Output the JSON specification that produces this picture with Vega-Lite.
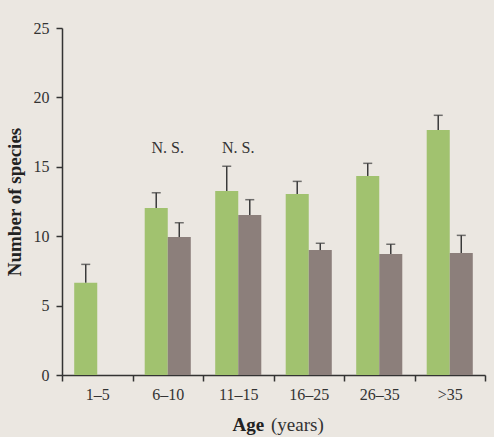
{
  "$schema": "https://vega.github.io/schema/vega-lite/v6.json",
  "width": 423,
  "height": 347,
  "autosize": {"type": "none"},
  "padding": {"left": 62, "top": 28, "right": 9, "bottom": 62},
  "background": "#ebe7e1",
  "config": {"view": {"stroke": null}, "font": "Liberation Serif"},
  "title": {"text": "(years)", "orient": "bottom", "anchor": "start", "frame": "group", "dx": 209, "offset": -3, "baseline": "alphabetic", "fontSize": 19, "fontWeight": "normal", "color": "#333333", "font": "Liberation Serif"},
  "datasets": {
    "bars": [
      {"age": "1–5", "group": "A", "value": 6.65, "err": 7.97},
      {"age": "6–10", "group": "A", "value": 12.03, "err": 13.13},
      {"age": "6–10", "group": "B", "value": 9.94, "err": 10.97},
      {"age": "11–15", "group": "A", "value": 13.26, "err": 15.04},
      {"age": "11–15", "group": "B", "value": 11.53, "err": 12.63},
      {"age": "16–25", "group": "A", "value": 13.04, "err": 13.95},
      {"age": "16–25", "group": "B", "value": 9.0, "err": 9.49},
      {"age": "26–35", "group": "A", "value": 14.34, "err": 15.25},
      {"age": "26–35", "group": "B", "value": 8.72, "err": 9.42},
      {"age": ">35", "group": "A", "value": 17.65, "err": 18.71},
      {"age": ">35", "group": "B", "value": 8.79, "err": 10.06}
    ],
    "notes": [
      {"age": "6–10", "label": "N. S."},
      {"age": "11–15", "label": "N. S."}
    ]
  },
  "layer": [
    {
      "data": {"name": "bars"},
      "mark": {"type": "bar"},
      "encoding": {
        "x": {
          "field": "age", "type": "nominal",
          "sort": ["1–5", "6–10", "11–15", "16–25", "26–35", ">35"],
          "scale": {"paddingInner": 0, "paddingOuter": 0},
          "axis": {
            "title": "Age", "titleFontWeight": "bold", "titleFontSize": 19, "titleColor": "#222222",
            "titleX": 170, "titleY": 55, "titleAlign": "left", "titleBaseline": "alphabetic", "titleAnchor": null,
            "labelAngle": 0, "labelFontSize": 16, "labelColor": "#333333", "labelPadding": 5,
            "tickBand": "extent", "tickSize": 6, "tickColor": "#333333", "tickWidth": 1.5,
            "domainColor": "#333333", "domainWidth": 1.5
          }
        },
        "xOffset": {"field": "group", "type": "nominal", "scale": {"domain": ["A", "B"], "paddingInner": 0, "paddingOuter": 0.53}},
        "y": {
          "field": "value", "type": "quantitative",
          "scale": {"domain": [0, 25], "nice": false},
          "axis": {
            "title": "Number of species", "titleFontWeight": "bold", "titleFontSize": 19, "titleColor": "#222222", "titlePadding": 9,
            "values": [0, 5, 10, 15, 20, 25], "grid": false,
            "labelFontSize": 16, "labelColor": "#333333", "labelPadding": 7,
            "tickSize": 6, "tickColor": "#333333", "tickWidth": 1.5,
            "domainColor": "#333333", "domainWidth": 1.5
          }
        },
        "color": {"field": "group", "type": "nominal", "scale": {"domain": ["A", "B"], "range": ["#a1c26f", "#8c7f7b"]}, "legend": null}
      }
    },
    {
      "data": {"name": "bars"},
      "mark": {"type": "rule", "color": "#3a3a3a", "strokeWidth": 1.5},
      "encoding": {
        "x": {"field": "age", "type": "nominal", "sort": ["1–5", "6–10", "11–15", "16–25", "26–35", ">35"]},
        "xOffset": {"field": "group", "type": "nominal", "scale": {"domain": ["A", "B"]}},
        "y": {"field": "value", "type": "quantitative"},
        "y2": {"field": "err"}
      }
    },
    {
      "data": {"name": "bars"},
      "mark": {"type": "tick", "orient": "horizontal", "color": "#3a3a3a", "size": 9, "thickness": 1.5},
      "encoding": {
        "x": {"field": "age", "type": "nominal", "sort": ["1–5", "6–10", "11–15", "16–25", "26–35", ">35"]},
        "xOffset": {"field": "group", "type": "nominal", "scale": {"domain": ["A", "B"]}},
        "y": {"field": "err", "type": "quantitative"}
      }
    },
    {
      "data": {"name": "notes"},
      "mark": {"type": "text", "fontSize": 16, "color": "#333333", "baseline": "alphabetic"},
      "encoding": {
        "x": {"field": "age", "type": "nominal", "sort": ["1–5", "6–10", "11–15", "16–25", "26–35", ">35"]},
        "y": {"datum": 16},
        "text": {"field": "label"}
      }
    }
  ]
}
